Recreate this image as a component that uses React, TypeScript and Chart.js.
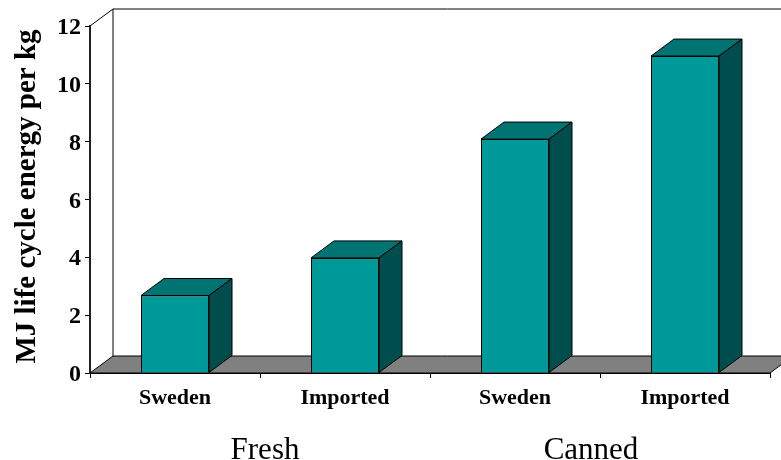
import { useEffect, useRef } from "react";
import { Chart, registerables } from "chart.js";

Chart.register(...registerables);

const products = ["Sweden", "Imported", "Sweden", "Imported"];
const energyPerKg = [2.68, 3.98, 8.09, 10.96];
const groupLabels = ["Fresh", "Canned"];
const groupCentres = [265, 591];
const axisTitle = "MJ life cycle energy per kg";

const serif = "'Liberation Serif', 'Times New Roman', serif";
const depthX = 23;
const depthY = 17;
const ink = "#000000";

function face(ctx: CanvasRenderingContext2D, pts: number[][], fill: string | null) {
  ctx.beginPath();
  pts.forEach(([x, y], i) => (i ? ctx.lineTo(x, y) : ctx.moveTo(x, y)));
  ctx.closePath();
  if (fill) {
    ctx.fillStyle = fill;
    ctx.fill();
  }
  ctx.stroke();
}

// Back walls and floor behind the bars, extruded faces on top of them.
const box3d = {
  id: "box3d",
  beforeDatasetsDraw(chart: any) {
    const { ctx, chartArea: a } = chart;
    const { left, right, top, bottom } = a;
    ctx.save();
    ctx.strokeStyle = ink;
    ctx.lineWidth = 1;
    face(ctx, [[left, bottom], [left + depthX, bottom - depthY], [right + depthX, bottom - depthY], [right, bottom]], "#808080");
    ctx.beginPath();
    ctx.moveTo(left, top);
    ctx.lineTo(left + depthX, top - depthY);
    ctx.lineTo(right + depthX, top - depthY);
    ctx.moveTo(left + depthX, top - depthY);
    ctx.lineTo(left + depthX, bottom - depthY);
    ctx.stroke();
    ctx.restore();
  },
  afterDatasetsDraw(chart: any) {
    const { ctx } = chart;
    ctx.save();
    ctx.strokeStyle = ink;
    ctx.lineWidth = 1;
    ctx.lineJoin = "round";
    chart.getDatasetMeta(0).data.forEach((bar: any) => {
      const { x, y, base, width } = bar.getProps(["x", "y", "base", "width"], true);
      const l = x - width / 2;
      const r = x + width / 2;
      face(ctx, [[l, y], [l + depthX, y - depthY], [r + depthX, y - depthY], [r, y]], "#007373");
      face(ctx, [[r, y], [r + depthX, y - depthY], [r + depthX, base - depthY], [r, base]], "#004d4d");
    });
    ctx.restore();
  },
  afterDraw(chart: any) {
    const { ctx, scales } = chart;
    ctx.save();
    ctx.fillStyle = ink;

    // Group names under the product labels
    ctx.font = `31px ${serif}`;
    ctx.textAlign = "center";
    ctx.textBaseline = "alphabetic";
    groupLabels.forEach((label, i) => ctx.fillText(label, groupCentres[i], 459));

    // Value labels, sitting slightly below their tick marks
    ctx.font = `bold 24px ${serif}`;
    ctx.textAlign = "right";
    scales.y.ticks.forEach((t: any) => {
      ctx.fillText(String(t.value), 81, scales.y.getPixelForValue(t.value) + 8);
    });

    // Vertical axis title
    ctx.save();
    ctx.translate(35, 196.5);
    ctx.rotate(-Math.PI / 2);
    ctx.font = `bold 29px ${serif}`;
    ctx.textAlign = "center";
    ctx.fillText(axisTitle, 0, 0);
    ctx.restore();

    ctx.restore();
  },
};

export default function App() {
  const ref = useRef<HTMLCanvasElement>(null);

  useEffect(() => {
    const chart = new Chart(ref.current!, {
      type: "bar",
      data: {
        labels: products,
        datasets: [
          {
            data: energyPerKg,
            backgroundColor: "#009999",
            borderColor: ink,
            borderWidth: 1,
            barPercentage: 0.4,
            categoryPercentage: 1,
          },
        ],
      },
      options: {
        animation: false,
        responsive: false,
        layout: { padding: { top: 26, right: 11, left: 0, bottom: 0 } },
        plugins: { legend: { display: false }, tooltip: { enabled: false } },
        scales: {
          x: {
            afterFit: (s: any) => {
              s.height = 87;
            },
            border: { color: ink, width: 1 },
            grid: { drawOnChartArea: false, tickLength: 5, color: ink, offset: true },
            ticks: {
              color: ink,
              padding: 7,
              maxRotation: 0,
              autoSkip: false,
              font: { family: serif, weight: "bold", size: 22 },
            },
          },
          y: {
            min: 0,
            max: 12,
            afterFit: (s: any) => {
              s.width = 90;
            },
            border: { color: "#222222", width: 2 },
            grid: { drawOnChartArea: false, tickLength: 5, color: ink },
            ticks: { stepSize: 2, display: false },
          },
        },
      },
      plugins: [box3d],
    } as any);
    return () => chart.destroy();
  }, []);

  return (
    <div style={{ position: "absolute", left: 0, top: 0, width: 781, height: 460, background: "#fff" }}>
      <canvas ref={ref} width={781} height={460} style={{ display: "block" }} />
    </div>
  );
}
